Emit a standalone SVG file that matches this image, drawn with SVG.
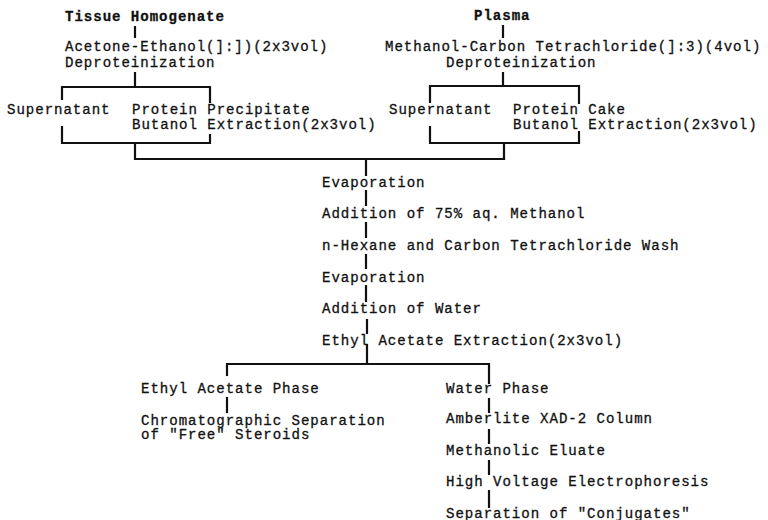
<svg xmlns="http://www.w3.org/2000/svg" width="768" height="520" viewBox="0 0 768 520">
<style>
text{font-family:"Liberation Mono","Courier New",monospace;font-size:14.1px;letter-spacing:0.95px;fill:#111;stroke:#111;stroke-width:0.3}
.b{font-weight:bold}
.c{stroke:#111;stroke-width:2.2;fill:none;stroke-linecap:square}
</style>
<rect width="768" height="520" fill="#fff"/>
<g id="connectors" class="c">
<path d="M135 27V37M135 73V87M62 87H210M62 87V99M62 127V143M210 87V102M210 135V143M62 143H210M135 143V159H504"/>
<path d="M503 26V37M503 73V86M430 86H579M430 86V102M430 127V143M579 86V103M579 132V143M430 143H579M504 143V159"/>
<path d="M366 159V175M366 191V205M366 223V237M366 255V268M366 286V301M367 320V333M367 345V364M227 364H489M227 364V375M489 364V383"/>
<path d="M227 398V412"/>
<path d="M489 399V412M489 430V443M489 461V474M489 491V507"/>
</g>
<g id="tissue"><text x="65" y="21" class="b">Tissue Homogenate</text></g>
<g id="acetone"><text x="65" y="51">Acetone-Ethanol(]:])(2x3vol)</text><text x="65" y="67">Deproteinization</text></g>
<g id="supernatant1"><text x="7" y="114">Supernatant</text></g>
<g id="protein1"><text x="132" y="114">Protein Precipitate</text><text x="132" y="129">Butanol Extraction(2x3vol)</text></g>
<g id="plasma"><text x="474" y="20" class="b">Plasma</text></g>
<g id="methanol"><text x="385" y="51">Methanol-Carbon Tetrachloride(]:3)(4vol)</text><text x="446" y="67">Deproteinization</text></g>
<g id="supernatant2"><text x="389" y="114">Supernatant</text></g>
<g id="protein2"><text x="513" y="114">Protein Cake</text><text x="513" y="129">Butanol Extraction(2x3vol)</text></g>
<g id="evap1"><text x="322" y="187">Evaporation</text></g>
<g id="addmeth"><text x="322" y="218">Addition of 75% aq. Methanol</text></g>
<g id="wash"><text x="322" y="250">n-Hexane and Carbon Tetrachloride Wash</text></g>
<g id="evap2"><text x="322" y="282">Evaporation</text></g>
<g id="addwater"><text x="322" y="313">Addition of Water</text></g>
<g id="ethylext"><text x="322" y="345">Ethyl Acetate Extraction(2x3vol)</text></g>
<g id="ethylphase"><text x="141" y="393">Ethyl Acetate Phase</text></g>
<g id="chrom"><text x="141" y="425">Chromatographic Separation</text><text x="141" y="439">of "Free" Steroids</text></g>
<g id="waterphase"><text x="446" y="393">Water Phase</text></g>
<g id="amberlite"><text x="446" y="423">Amberlite XAD-2 Column</text></g>
<g id="eluate"><text x="446" y="455">Methanolic Eluate</text></g>
<g id="hve"><text x="446" y="486">High Voltage Electrophoresis</text></g>
<g id="conj"><text x="446" y="518">Separation of "Conjugates"</text></g>
</svg>
